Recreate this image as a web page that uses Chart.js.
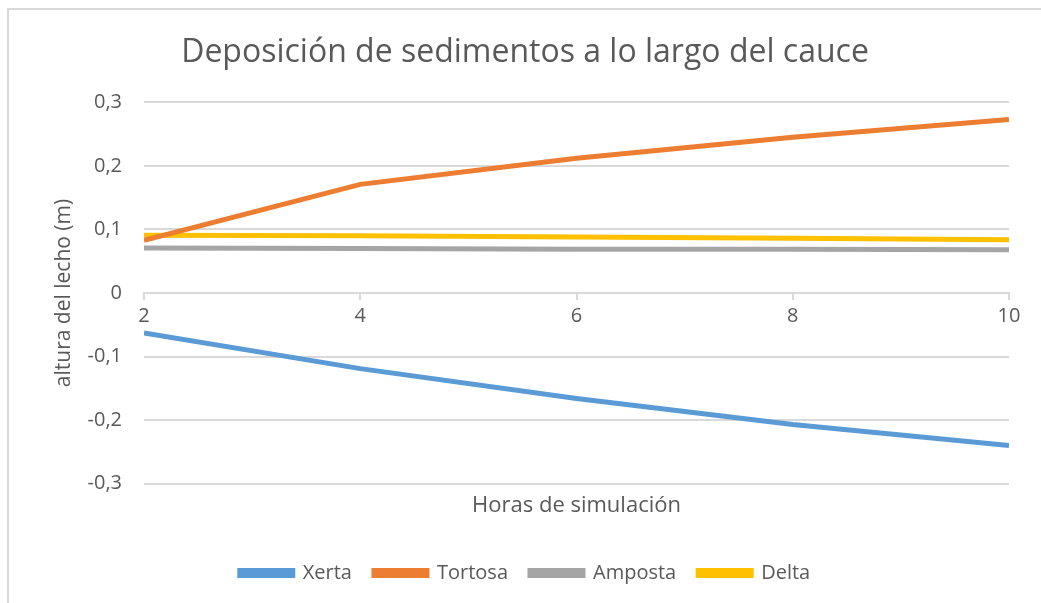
<!DOCTYPE html>
<html>
<head>
<meta charset="utf-8">
<script src="https://cdn.jsdelivr.net/npm/chart.js@4.4.1/dist/chart.umd.min.js"></script>
<style>
  html, body { margin: 0; padding: 0; background: #fff; }
  #frame {
    position: absolute; left: 7px; top: 8px; width: 1040px; height: 600px;
    border-left: 2px solid #d9d9d9; border-top: 2px solid #d9d9d9;
  }
  #wrap { position: absolute; left: 0; top: 0; width: 1032px; height: 593px; }
</style>
</head>
<body>
<div id="frame"><div id="wrap"><canvas id="Chart"></canvas></div></div>
<script>
// horas de simulación
var horas = [2, 4, 6, 8, 10];
var xerta   = [-0.063, -0.119, -0.166, -0.207, -0.240];
var tortosa = [0.083, 0.171, 0.212, 0.245, 0.273];
var amposta = [0.071, 0.070, 0.069, 0.069, 0.068];
var delta   = [0.091, 0.090, 0.088, 0.086, 0.084];
var yTicks = [-0.3, -0.2, -0.1, 0, 0.1, 0.2, 0.3];

var fontFam = "'Open Sans', sans-serif";
var gray = '#595959';

function pts(vals) {
  return vals.map(function (v, i) { return { x: horas[i], y: v }; });
}

function serie(label, vals, color) {
  return {
    label: label,
    data: pts(vals),
    borderColor: color,
    backgroundColor: color,
    borderWidth: 5,
    pointRadius: 0,
    tension: 0,
    borderCapStyle: 'butt'
  };
}

Chart.defaults.font.family = fontFam;
Chart.defaults.color = gray;

var chart = new Chart('Chart', {
  type: 'line',
  data: {
    datasets: [
      serie('Xerta', xerta, '#5B9BD5'),
      serie('Tortosa', tortosa, '#ED7D31'),
      serie('Amposta', amposta, '#A5A5A5'),
      serie('Delta', delta, '#FFC000')
    ]
  },
  options: {
    responsive: true,
    maintainAspectRatio: false,
    animation: false,
    layout: { padding: { left: 0, right: 0, top: 0, bottom: 10 } },
    plugins: {
      title: {
        display: true,
        text: 'Deposición de sedimentos a lo largo del cauce',
        color: gray,
        font: { size: 32, weight: 'normal' },
        padding: { top: 24, bottom: 30 }
      },
      legend: {
        position: 'bottom',
        labels: {
          boxWidth: 53,
          boxHeight: 5,
          padding: 22,
          color: gray,
          font: { size: 20 }
        }
      },
      tooltip: { enabled: false }
    },
    scales: {
      x: {
        type: 'linear',
        position: { y: 0 },
        min: 2,
        max: 10,
        afterBuildTicks: function (scale) {
          scale.ticks = horas.map(function (h) { return { value: h }; });
        },
        grid: {
          drawOnChartArea: false,
          drawTicks: true,
          tickLength: 6,
          color: '#d9d9d9',
          lineWidth: 2
        },
        border: { color: '#d9d9d9', width: 2 },
        ticks: { color: gray, font: { size: 20 }, padding: 5, maxRotation: 0 }
      },
      x2: {
        type: 'linear',
        axis: 'x',
        position: 'bottom',
        min: 2,
        max: 10,
        grid: { display: false },
        border: { display: false },
        ticks: { display: false },
        title: {
          display: true,
          text: 'Horas de simulación',
          color: gray,
          font: { size: 22 },
          padding: { top: 1, bottom: 22 }
        }
      },
      y: {
        min: -0.3,
        max: 0.3,
        afterFit: function (scale) { scale.width = 135; },
        afterBuildTicks: function (scale) {
          scale.ticks = yTicks.map(function (v) { return { value: v }; });
        },
        grid: { color: '#d9d9d9', lineWidth: 2, drawTicks: false },
        border: { display: false },
        ticks: {
          color: gray,
          font: { size: 20 },
          padding: 22,
          callback: function (v) {
            return (Math.round(v * 10) / 10).toString().replace('.', ',');
          }
        },
        title: {
          display: true,
          text: 'altura del lecho (m)',
          color: gray,
          font: { size: 21 },
          padding: { top: 42, bottom: 0 }
        }
      },
      // empty right axis, only reserves the right margin
      yR: {
        type: 'linear',
        axis: 'y',
        position: 'right',
        min: -0.3,
        max: 0.3,
        afterFit: function (scale) { scale.width = 32; },
        grid: { display: false },
        border: { display: false },
        ticks: { display: false }
      }
    }
  }
});
</script>
</body>
</html>
